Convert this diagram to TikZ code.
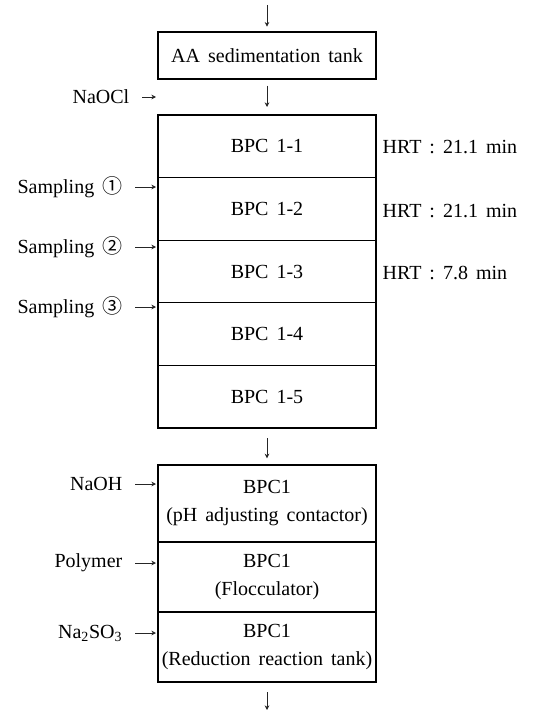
\documentclass[tikz,border=0pt]{standalone}
\usepackage{fontspec}
\setmainfont[WordSpace=1.6]{Liberation Serif}
\newfontfamily\circfont{Noto Sans CJK KR}
\usetikzlibrary{arrows.meta, positioning}

\begin{document}
\begin{tikzpicture}[
    x=0.75pt,
    y=-0.75pt,
    >={Stealth[length=3.5pt,width=3.5pt]},
    font=\fontsize{15pt}{21pt}\selectfont,
    node distance=0pt,
    tank/.style={draw, line width=0.8pt, outer sep=0pt, inner sep=0pt,
                 minimum width=163.5pt, align=center},
    shell/.style={draw, line width=1.3pt},
    flow/.style={->, line width=0.6pt, black!85},
    dose/.style={anchor=east},
    hrt/.style={anchor=west},
]
    \useasboundingbox (0,0) rectangle (558,710);

    \node[tank, minimum height=35.25pt]                 (aa) at (267,55.5)  {AA sedimentation tank};

    \node[tank, minimum height=46.95pt]                 (b1) at (267,146.3) {BPC 1-1};
    \node[tank, minimum height=46.95pt, below =of b1]   (b2)                {BPC 1-2};
    \node[tank, minimum height=46.95pt, below =of b2]   (b3)                {BPC 1-3};
    \node[tank, minimum height=46.95pt, below =of b3]   (b4)                {BPC 1-4};
    \node[tank, minimum height=46.95pt, below =of b4]   (b5)                {BPC 1-5};

    \node[tank, minimum height=57.75pt]                 (c1) at (267,503.5) {BPC1\\(pH adjusting contactor)};
    \node[tank, minimum height=52.5pt,  below =of c1]   (c2)                {BPC1\\(Flocculator)};
    \node[tank, minimum height=52.5pt,  below =of c2]   (c3)                {BPC1\\(Reduction reaction tank)};

    % outer walls
    \draw[shell] (aa.north west) rectangle (aa.south east);
    \draw[shell] (b1.north west) rectangle (b5.south east);
    \draw[shell] (c1.north west) rectangle (c3.south east);

    % retention times
    \node[hrt] (hrt1) at (378,147) {HRT : 21.1 min};
    \node[hrt] (hrt2) at (378,211) {HRT : 21.1 min};
    \node[hrt] (hrt3) at (378,273) {HRT : 7.8 min};

    % dosing and sampling points
    \node[dose] (naocl) at (134,97)  {NaOCl};
    \node[dose] (smp1)  at (127,187) {Sampling {\circfont ①}};
    \node[dose] (smp2)  at (127,247) {Sampling {\circfont ②}};
    \node[dose] (smp3)  at (127,307) {Sampling {\circfont ③}};
    \node[dose] (naoh)  at (127,484) {NaOH};
    \node[dose] (poly)  at (127,563) {Polymer};
    \node[dose] (nasul) at (127,633) {Na\textsubscript{2}SO\textsubscript{3}};

    \coordinate (inlet)    at (267,5);
    \coordinate (outlet)   at (267,710);
    \coordinate (naoclin)  at (156,97);
    \coordinate (smp1in)   at (156,187);
    \coordinate (smp2in)   at (156,247);
    \coordinate (smp3in)   at (156,307);
    \coordinate (naohin)   at (156,484);
    \coordinate (polyin)   at (156,563);
    \coordinate (nasulin)  at (156,633);

    \path[flow]
        (inlet) edge [shorten >=4pt]                 (aa)
        (aa)    edge [shorten <=5pt, shorten >=6pt]  (b1)
        (b5)    edge [shorten <=7.5pt, shorten >=5pt] (c1)
        (c3)    edge [shorten <=7.5pt]               (outlet)
    ;

    \path[flow, shorten <=6pt]
        (naocl) edge (naoclin)
        (smp1)  edge (smp1in)
        (smp2)  edge (smp2in)
        (smp3)  edge (smp3in)
        (naoh)  edge (naohin)
        (poly)  edge (polyin)
        (nasul) edge (nasulin)
    ;
\end{tikzpicture}
\end{document}
